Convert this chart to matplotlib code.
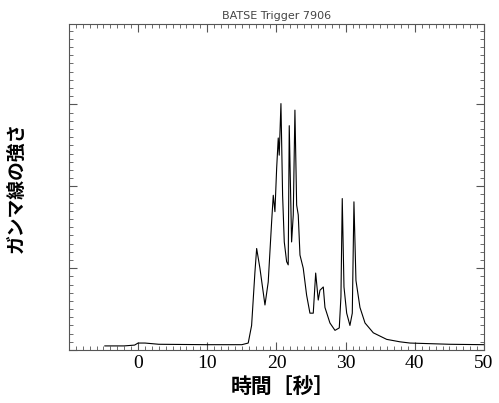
import numpy as np
import matplotlib.pyplot as plt
from matplotlib.ticker import MultipleLocator

plt.rcParams['font.family'] = ['Noto Sans CJK JP', 'DejaVu Sans']

# time in seconds after trigger, intensity in arbitrary units
time = [-4.8, -2.0, -0.5, 0.0, 1.0, 3.0, 10.0, 15.0, 15.92, 16.41, 16.89,
        17.14, 17.61, 18.34, 18.81, 19.30, 19.54, 19.78, 20.03, 20.26, 20.40,
        20.65, 20.89, 21.13, 21.47, 21.70, 21.85, 22.19, 22.43, 22.67, 22.92,
        23.15, 23.40, 23.87, 24.36, 24.84, 25.32, 25.67, 26.04, 26.29, 26.77,
        27.01, 27.73, 28.46, 29.08, 29.32, 29.51, 29.76, 30.15, 30.62, 30.96,
        31.20, 31.49, 32.07, 32.80, 34.0, 35.93, 37.85, 39.30, 45.0, 50.0]
intensity = [0.05, 0.05, 0.06, 0.085, 0.085, 0.07, 0.065, 0.065, 0.085, 0.30,
             0.95, 1.24, 1.00, 0.55, 0.83, 1.56, 1.89, 1.69, 2.22, 2.59, 2.38,
             3.01, 1.89, 1.32, 1.08, 1.04, 2.74, 1.32, 1.65, 2.93, 1.77, 1.65,
             1.16, 1.00, 0.67, 0.45, 0.45, 0.94, 0.61, 0.73, 0.77, 0.52, 0.33,
             0.24, 0.27, 0.65, 1.85, 0.77, 0.45, 0.30, 0.45, 1.81, 0.85, 0.52,
             0.33, 0.21, 0.13, 0.10, 0.085, 0.07, 0.065]

fig = plt.figure(figsize=(4.99, 4.03), dpi=100)
ax = fig.add_axes([0.138, 0.1315, 0.832, 0.8085])
ax.plot(time, intensity, color='black', lw=0.8)

ax.set_xlim(-10, 50)
ax.set_ylim(0, 3.98)
ax.xaxis.set_major_locator(MultipleLocator(10))
ax.xaxis.set_minor_locator(MultipleLocator(1))
ax.yaxis.set_major_locator(MultipleLocator(1))
ax.yaxis.set_minor_locator(MultipleLocator(0.1))
ax.tick_params(which='both', direction='in', top=True, right=True,
               color='#555555')
ax.tick_params(which='major', length=6)
ax.tick_params(which='minor', length=3)
ax.tick_params(axis='y', labelleft=False)
ax.set_xticks([0, 10, 20, 30, 40, 50])
for lab in ax.get_xticklabels():
    lab.set_family('Liberation Serif')
    lab.set_fontsize(14)
for s in ax.spines.values():
    s.set_color('#555555')
    s.set_linewidth(0.8)

ax.set_title('BATSE Trigger 7906', fontsize=8, color='#444444',
             family='DejaVu Sans', pad=4)
ax.set_xlabel('時間［秒］', fontsize=15, fontweight='bold')
ax.xaxis.set_label_coords(0.515, -0.08)
ax.set_ylabel('ガンマ線の強さ', fontsize=13.5, fontweight='bold')
ax.yaxis.set_label_coords(-0.103, 0.5)

fig.savefig('out.png', dpi=100)
